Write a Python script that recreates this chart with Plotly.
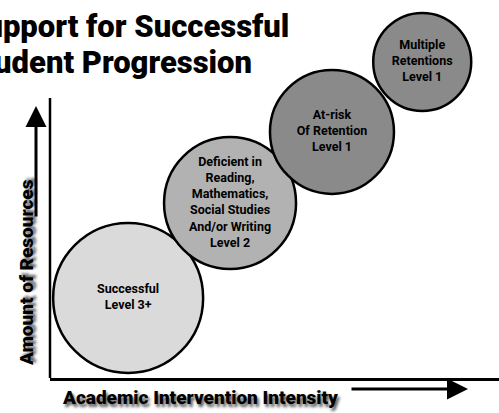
import plotly.graph_objects as go

# ---- data ----
categories = [
    "Successful<br>Level 3+",
    "Deficient in<br>Reading,<br>Mathematics,<br>Social Studies<br>And/or Writing<br>Level 2",
    "At-risk<br>Of Retention<br>Level 1",
    "Multiple<br>Retentions<br>Level 1",
]
intervention_intensity = [1.74, 4.01, 6.28, 8.29]
amount_of_resources = [2.86, 6.25, 8.79, 11.29]
bubble_size = [150, 132, 124, 98]
bubble_colors = ["#dadada", "#b2b2b2", "#8a8a8a", "#8a8a8a"]

title_lines = ["Support for Successful", "Student Progression"]
x_label = "Academic Intervention Intensity"
y_label = "Amount of Resources"

W, H = 499, 413
ML, MR, MT, MB = 50, 0, 0, 35
PW, PH = W - ML - MR, H - MT - MB
AXIS_TOP = 98  # px where the vertical axis line starts

def px(x):
    return (x - ML) / PW

def py(y):
    return (H - MB - y) / PH

FONT = "Roboto, sans-serif"

fig = go.Figure()
fig.add_trace(go.Scatter(
    x=intervention_intensity,
    y=amount_of_resources,
    mode="markers+text",
    text=categories,
    textposition="middle center",
    textfont=dict(family=FONT, size=12.5, color="black", weight="bold"),
    marker=dict(size=bubble_size, color=bubble_colors, opacity=1,
                line=dict(color="black", width=2.5)),
    cliponaxis=False,
    hoverinfo="skip",
))

annotations = [
    dict(x=px(291), y=py(27), xref="paper", yref="paper", xanchor="right", yanchor="middle",
         text=title_lines[0], showarrow=False,
         font=dict(family=FONT, size=31, color="black", weight=900)),
    dict(x=px(254), y=py(63), xref="paper", yref="paper", xanchor="right", yanchor="middle",
         text=title_lines[1], showarrow=False,
         font=dict(family=FONT, size=31, color="black", weight=900)),
    dict(x=px(60), y=py(397), xref="paper", yref="paper", xanchor="left", yanchor="middle",
         text=x_label, showarrow=False,
         font=dict(family=FONT, size=19, color="black", weight=900,
                   shadow="2px 3px 3px #555")),
    dict(x=px(26), y=py(273), xref="paper", yref="paper", xanchor="center", yanchor="middle",
         text=y_label, showarrow=False, textangle=-90,
         font=dict(family=FONT, size=19, color="black", weight=900,
                   shadow="2px 3px 3px #555")),
    # arrows
    dict(x=px(468), y=py(389), xref="paper", yref="paper", text="", showarrow=True,
         ax=-118, ay=0, arrowhead=2, arrowsize=1.4, arrowwidth=3, arrowcolor="black", standoff=0),
    dict(x=px(36), y=py(106), xref="paper", yref="paper", text="", showarrow=True,
         ax=0, ay=112, arrowhead=2, arrowsize=1.4, arrowwidth=3, arrowcolor="black", standoff=0),
]

shapes = [
    dict(type="line", xref="paper", yref="paper", x0=0, x1=0, y0=0, y1=py(AXIS_TOP),
         line=dict(color="black", width=2.5)),
]

fig.update_layout(
    width=W, height=H,
    margin=dict(l=ML, r=MR, t=MT, b=MB),
    paper_bgcolor="white", plot_bgcolor="white",
    showlegend=False,
    annotations=annotations,
    shapes=shapes,
    xaxis=dict(range=[0, 10], showline=True, linecolor="black", linewidth=2.5,
               showgrid=False, zeroline=False, showticklabels=False, ticks="", fixedrange=True),
    yaxis=dict(range=[0, (H - MB) / 28.0], showline=False,
               showgrid=False, zeroline=False, showticklabels=False, ticks="", fixedrange=True),
)

fig.write_html("out.html", config={"displayModeBar": False},
               post_script="document.body.style.margin='0';document.body.style.padding='0';")
